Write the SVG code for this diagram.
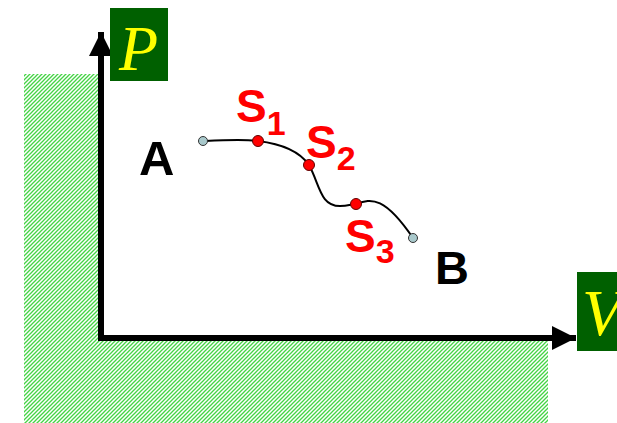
<svg xmlns="http://www.w3.org/2000/svg" width="617" height="423" viewBox="0 0 617 423">
<defs>
<pattern id="hatch" width="4" height="4" patternUnits="userSpaceOnUse">
<rect width="4" height="4" fill="#ffffff"/>
<path d="M-1,1 L1,-1 M0,4 L4,0 M3,5 L5,3" stroke="#44d444" stroke-width="1.3"/>
</pattern>
<marker id="arr" viewBox="0 0 10 10" refX="10" refY="5" markerWidth="4" markerHeight="4" markerUnits="strokeWidth" orient="auto">
<path d="M0,0 L10,5 L0,10 z" fill="#000"/>
</marker>
<style>
.lbl{font-family:"Liberation Sans",Arial,sans-serif;font-weight:bold;}
.red{fill:#ff0000;}
.axl{font-family:"Liberation Serif","Times New Roman",serif;font-style:italic;fill:#ffff00;}
.box{fill:#006000;}
.pt{fill:#ff0000;stroke:#600000;stroke-width:1;}
.end{fill:#a9c9cc;stroke:#333;stroke-width:1;}
</style>
</defs>
<g id="hatched-region">
<path d="M24,74 H99 V341 H548 V423 H24 Z" fill="url(#hatch)"/>
</g>
<g id="connectors">
<path d="M101,341 V32" stroke="#000" stroke-width="6" fill="none" marker-end="url(#arr)"/>
<path d="M98,338 H576" stroke="#000" stroke-width="6" fill="none" marker-end="url(#arr)"/>
<path d="M203,141 C225,140 245,139 258,141 C283,144 300,152 309,165 C320,185 320,206 340,206 C348,206 352,204 356,204 C372,198 385,197 413,238" stroke="#000" stroke-width="2" fill="none"/>
</g>
<g id="P-label">
<rect class="box" x="110" y="8" width="58" height="73"/>
<text class="axl" x="119" y="70" font-size="64">P</text>
</g>
<g id="V-label">
<rect class="box" x="577" y="272" width="60" height="79"/>
<text class="axl" x="582" y="335" font-size="66">V</text>
</g>
<g id="A">
<circle class="end" cx="203" cy="141" r="4.5"/>
<text class="lbl" x="139" y="175" font-size="49">A</text>
</g>
<g id="B">
<circle class="end" cx="413" cy="238" r="4.5"/>
<text class="lbl" x="435" y="284" font-size="47">B</text>
</g>
<g id="S1">
<circle class="pt" cx="258" cy="141" r="5.5"/>
<text class="lbl red" x="236" y="122" font-size="46">S<tspan font-size="34" dy="13">1</tspan></text>
</g>
<g id="S2">
<circle class="pt" cx="309" cy="165" r="5.5"/>
<text class="lbl red" x="306" y="158" font-size="46">S<tspan font-size="34" dy="12">2</tspan></text>
</g>
<g id="S3">
<circle class="pt" cx="356" cy="204" r="5.5"/>
<text class="lbl red" x="345" y="252" font-size="46">S<tspan font-size="34" dy="11">3</tspan></text>
</g>
</svg>
